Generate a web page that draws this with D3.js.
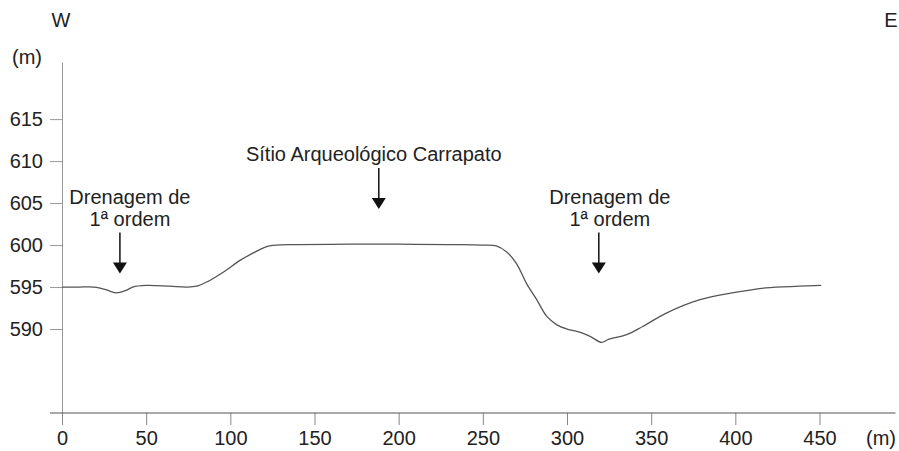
<!DOCTYPE html>
<html>
<head>
<meta charset="utf-8">
<script src="https://cdn.jsdelivr.net/npm/d3@7"></script>
<style>
  body { margin: 0; background: #fff; }
  svg { display: block; }
  text { font-family: "Liberation Sans", Arial, sans-serif; fill: #222; }
</style>
</head>
<body>
<div id="chart"></div>
<script>
// profile W-E: distance (m) and elevation (m)
var distance = [0, 10, 19, 26, 32, 38, 42, 50, 64, 74, 80, 86, 96, 106, 116, 122, 128, 140, 170, 200, 230, 250, 258, 264, 270, 276, 282, 288, 294, 300, 308, 314, 320.5, 325, 335, 345, 359, 379, 398, 418, 438, 451];
var elevation = [595.0, 595.0, 595.0, 594.7, 594.3, 594.6, 595.0, 595.2, 595.1, 595.0, 595.1, 595.6, 596.8, 598.2, 599.3, 599.85, 600.0, 600.05, 600.1, 600.1, 600.05, 600.0, 599.9, 599.2, 597.8, 595.4, 593.5, 591.5, 590.5, 590.0, 589.6, 589.1, 588.4, 588.8, 589.3, 590.3, 591.9, 593.5, 594.3, 594.9, 595.1, 595.2];

var xTicks = [0, 50, 100, 150, 200, 250, 300, 350, 400, 450];
var yTicks = [590, 595, 600, 605, 610, 615];

// annotations: label lines, arrow position (m), arrow tip elevation (m)
var annoLines = [["Drenagem de", "1ª ordem"], ["Sítio Arqueológico Carrapato"], ["Drenagem de", "1ª ordem"]];
var annoX = [34.4, 188.2, 318.9];
var annoTip = [596.6, 604.3, 596.6];

var svgWidth = 899;
var svgHeight = 451;

var svg = d3.select("#chart")
  .append("svg")
  .attr("width", svgWidth)
  .attr("height", svgHeight);

var x = d3.scaleLinear()
  .domain([0, 450])
  .range([62, 819.5]);

var y = d3.scaleLinear()
  .domain([580, 621.8])
  .range([413, 62]);

// y axis
var yAxis = svg.append("g")
  .attr("transform", "translate(62,0)")
  .call(d3.axisLeft(y).tickValues(yTicks).tickSize(12).tickSizeOuter(0).tickPadding(7));
yAxis.select(".domain").attr("stroke", "#999").attr("stroke-width", 1);
yAxis.selectAll(".tick line").attr("stroke", "#999");
yAxis.selectAll(".tick text")
  .attr("font-size", 20)
  .attr("font-family", "Liberation Sans, Arial, sans-serif")
  .attr("fill", "#222");

// x axis
var xAxis = svg.append("g")
  .attr("transform", "translate(0,413)")
  .call(d3.axisBottom(x).tickValues(xTicks).tickSize(12).tickPadding(6));
xAxis.select(".domain").remove();
xAxis.selectAll(".tick line").attr("stroke", "#888");
xAxis.selectAll(".tick text")
  .attr("font-size", 20)
  .attr("font-family", "Liberation Sans, Arial, sans-serif")
  .attr("fill", "#222");
xAxis.append("line")
  .attr("x1", x(0) - 12)
  .attr("x2", x(450) + 76)
  .attr("stroke", "#555")
  .attr("stroke-width", 1.2);

// profile line
var pts = distance.map(function(d, i) { return [d, elevation[i]]; });
var line = d3.line()
  .x(d => x(d[0]))
  .y(d => y(d[1]))
  .curve(d3.curveCatmullRom.alpha(0.5));

svg.append("path")
  .datum(pts)
  .attr("d", line)
  .attr("fill", "none")
  .attr("stroke", "#555")
  .attr("stroke-width", 1.3);

// arrows + labels
var labelShift = [10, -5, 11];
annoLines.forEach(function(lines, i) {
  var ax = x(annoX[i]);
  var tip = y(annoTip[i]);
  svg.append("line")
    .attr("x1", ax).attr("x2", ax)
    .attr("y1", tip - 41).attr("y2", tip - 10)
    .attr("stroke", "#111")
    .attr("stroke-width", 1.5);
  svg.append("path")
    .attr("d", `M${ax - 7},${tip - 11} L${ax + 7},${tip - 11} L${ax},${tip} Z`)
    .attr("fill", "#111");
  var nLines = lines.length;
  lines.forEach(function(t, j) {
    svg.append("text")
      .attr("x", ax + labelShift[i])
      .attr("y", tip - 48 - (nLines - 1 - j) * 22)
      .attr("text-anchor", "middle")
      .attr("font-size", 20)
      .text(t);
  });
});

// axis units and orientation
svg.append("text").attr("x", 27).attr("y", 64).attr("text-anchor", "middle").attr("font-size", 20).text("(m)");
svg.append("text").attr("x", 881).attr("y", 445).attr("text-anchor", "middle").attr("font-size", 20).text("(m)");
svg.append("text").attr("x", 61).attr("y", 27).attr("text-anchor", "middle").attr("font-size", 20).text("W");
svg.append("text").attr("x", 891).attr("y", 27).attr("text-anchor", "middle").attr("font-size", 20).text("E");
</script>
</body>
</html>
